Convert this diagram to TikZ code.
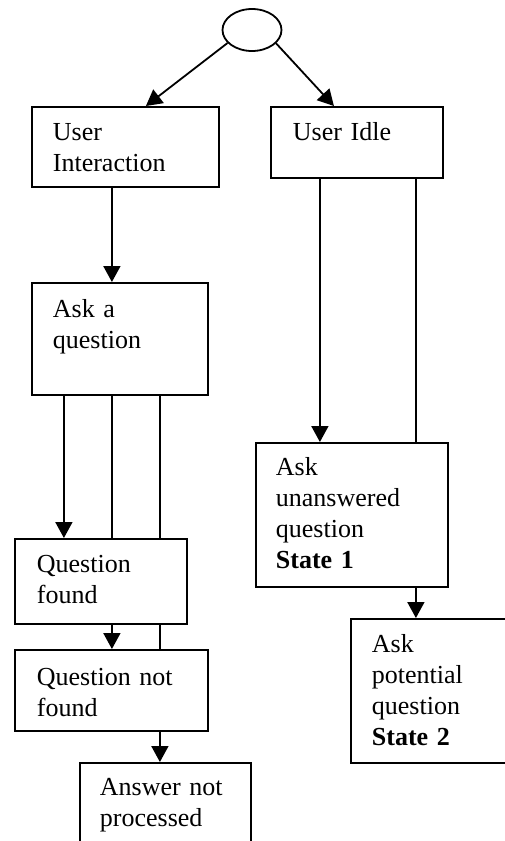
\documentclass[tikz,border=0pt]{standalone}
\usepackage{fontspec}
\setmainfont{Liberation Serif}
\usepackage{tikz}
\usetikzlibrary{shapes, arrows.meta, positioning}

\begin{document}
\begin{tikzpicture}[x=1pt, y=-1pt, line width=1.8pt,
          box/.style={draw, rectangle, anchor=north west, inner sep=0pt},
          txt/.style={anchor=base west, inner sep=0pt, text width=190pt, align=left,
                      font=\fontsize{26}{31}\selectfont},
          arr/.style={-{Triangle[length=16pt, width=17pt]}}]
        \clip (0,0) rectangle (505,841);
        \node[draw, ellipse, minimum width=59pt, minimum height=42pt, inner sep=0pt] (top) at (252,30) {};
        \node[box, minimum width=187pt, minimum height=80pt] (ui) at (31,106) {};
        \node[box, minimum width=172pt, minimum height=71pt] (idle) at (270,106) {};
        \node[box, minimum width=176pt, minimum height=112pt] (ask) at (31,282) {};
        \node[box, minimum width=192pt, minimum height=144pt] (unans) at (255,442) {};
        \node[box, minimum width=172pt, minimum height=85pt] (qf) at (14,538) {};
        \node[box, minimum width=193pt, minimum height=81pt] (qnf) at (14,649) {};
        \node[box, minimum width=171pt, minimum height=100pt] (anp) at (79,762) {};
        \node[box, minimum width=170pt, minimum height=144pt] (pot) at (350,618) {};
        \node[txt] at ([shift={(21,34)}]ui.north west) {User\\Interaction};
        \node[txt] at ([shift={(22,34)}]idle.north west) {User Idle};
        \node[txt] at ([shift={(21,35)}]ask.north west) {Ask a\\question};
        \node[txt] at ([shift={(20,33)}]unans.north west) {Ask\\unanswered\\question\\\textbf{State 1}};
        \node[txt] at ([shift={(22,34)}]qf.north west) {Question\\found};
        \node[txt] at ([shift={(22,36)}]qnf.north west) {Question not\\found};
        \node[txt] at ([shift={(20,33)}]anp.north west) {Answer not\\processed};
        \node[txt] at ([shift={(21,34)}]pot.north west) {Ask\\potential\\question\\\textbf{State 2}};
        \coordinate (i1) at ([xshift=-37pt]idle.south);
        \coordinate (i2) at ([xshift=59pt]idle.south);
        \coordinate (u1) at ([xshift=-13.5pt]ui.south);
        \coordinate (a1) at ([xshift=-56pt]ask.south);
        \coordinate (a2) at ([xshift=-8pt]ask.south);
        \coordinate (a3) at ([xshift=40pt]ask.south);
        \coordinate (f2) at (a2 |- qf.south);
        \coordinate (f3) at (a3 |- qf.south);
        \coordinate (n3) at (a3 |- qnf.south);
        \coordinate (s1) at ([xshift=64pt]unans.south);
        \draw[arr] (top.208) -- ([xshift=20.5pt]ui.north);
        \draw[arr] (top.331) -- ([xshift=-23pt]idle.north);
        \draw[arr] (u1) -- (u1 |- ask.north);
        \draw[arr] (i1) -- (i1 |- unans.north);
        \draw (i2) -- (i2 |- unans.north);
        \draw[arr] (a1) -- (a1 |- qf.north);
        \draw (a2) -- (a2 |- qf.north);
        \draw (a3) -- (a3 |- qf.north);
        \draw[arr] (f2) -- (f2 |- qnf.north);
        \draw (f3) -- (f3 |- qnf.north);
        \draw[arr] (n3) -- (n3 |- anp.north);
        \draw[arr] (s1) -- (s1 |- pot.north);
      \end{tikzpicture}
\end{document}
